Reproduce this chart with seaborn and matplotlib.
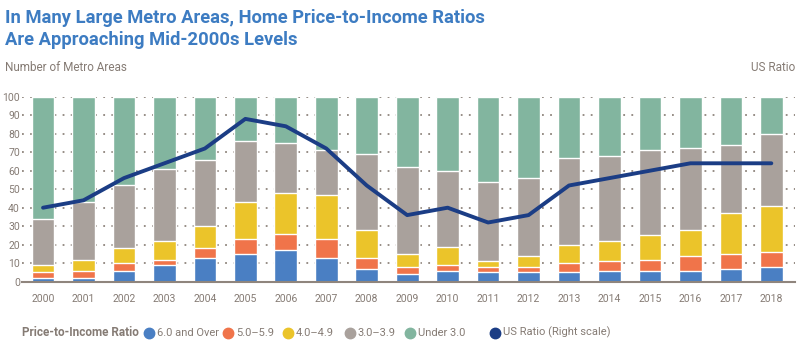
import matplotlib
matplotlib.use("Agg")
import matplotlib.pyplot as plt
import seaborn as sns
import pandas as pd
from matplotlib.lines import Line2D

years = [str(y) for y in range(2000, 2019)]
# number of metro areas in each price-to-income band
over_6 = [2, 2, 6, 9, 13, 15, 17, 13, 7, 4, 6, 5, 5, 5, 6, 6, 6, 7, 8]
r5_59 = [3, 4, 4, 3, 5, 8, 9, 10, 6, 4, 3, 3, 3, 5, 5, 6, 8, 8, 8]
r4_49 = [4, 6, 8, 10, 12, 20, 22, 24, 15, 7, 10, 3, 6, 10, 11, 13, 14, 22, 25]
r3_39 = [25, 31, 34, 39, 36, 33, 27, 24, 41, 47, 41, 43, 42, 47, 46, 46, 44, 37, 39]
under_3 = [66, 57, 48, 39, 34, 24, 25, 29, 31, 38, 40, 46, 44, 33, 32, 29, 28, 26, 20]
us_ratio = [40, 44, 56, 64, 72, 88, 84, 72, 52, 36, 40, 32, 36, 52, 56, 60, 64, 64, 64]

series_names = ["6.0 and Over", "5.0\u20135.9", "4.0\u20134.9", "3.0\u20133.9", "Under 3.0"]
series_vals = [over_6, r5_59, r4_49, r3_39, under_3]
colors = ["#4a7fc3", "#f0744a", "#ebc42a", "#a9a19c", "#82b59f"]
line_color = "#1b3d85"
text_gray = "#857b74"

df = pd.DataFrame(dict(zip(series_names, series_vals)), index=years)
cum = df.cumsum(axis=1)

sns.set_style("white")
plt.rcParams["font.family"] = ["Roboto", "DejaVu Sans"]

fig = plt.figure(figsize=(8, 3.56), dpi=100)
ax = fig.add_axes([0.0275, 0.2087, 0.9665, 0.5197])

# stacked bars: draw cumulative totals from top band down
for name, col in reversed(list(zip(series_names, colors))):
    sns.barplot(x=years, y=cum[name].values, color=col, width=0.56,
                saturation=1, ax=ax, zorder=2)

ax.set_ylim(0, 100)
ax.set_xlim(-0.52, 18.59)
ax.set_yticks(range(0, 101, 10))
ax.yaxis.grid(True, linestyle=(0, (1, 3.5)), color="#8f857d", linewidth=1.3, zorder=0)
ax.set_axisbelow(True)
for s in ["top", "right", "left"]:
    ax.spines[s].set_visible(False)
ax.spines["bottom"].set_color("#8f857d")
ax.spines["bottom"].set_linewidth(1.5)
ax.tick_params(axis="both", length=0, labelsize=7.5, colors=text_gray)
ax.tick_params(axis="x", pad=9)
ax.tick_params(axis="y", pad=1.5)
ax.set_xlabel("")
ax.set_ylabel("")

# US ratio on right scale (no tick labels shown)
ax2 = ax.twinx()
sns.lineplot(x=list(range(len(years))), y=us_ratio, color=line_color,
             linewidth=2.8, ax=ax2, zorder=5)
ax2.set_ylim(0, 100)
ax2.set_yticks([])
for s in ax2.spines.values():
    s.set_visible(False)

fig.text(0.006, 0.918, "In Many Large Metro Areas, Home Price-to-Income Ratios\nAre Approaching Mid-2000s Levels",
         color="#3d7cc2", fontsize=13.2, fontweight="bold", va="center", linespacing=1.3)
fig.text(0.006, 0.81, "Number of Metro Areas", color=text_gray, fontsize=8.5, va="center")
fig.text(0.994, 0.81, "US Ratio", color=text_gray, fontsize=8.5, va="center", ha="right")

# legend, placed item by item as in the original
leg_y = 0.066
fig.text(0.027, leg_y, "Price-to-Income Ratio", color=text_gray, fontsize=8.5,
         fontweight="bold", va="center")
leg_labels = series_names + ["US Ratio (Right scale)"]
leg_colors = colors + [line_color]
dot_x = [149, 228, 288, 350, 410, 495]
for x, lab, c in zip(dot_x, leg_labels, leg_colors):
    fig.add_artist(Line2D([x / 800], [leg_y], marker="o", markersize=7.5, color=c,
                          linestyle="", transform=fig.transFigure))
    fig.text((x + 8) / 800, leg_y, lab, color=text_gray, fontsize=8, va="center")

fig.savefig("out.png", dpi=100)
